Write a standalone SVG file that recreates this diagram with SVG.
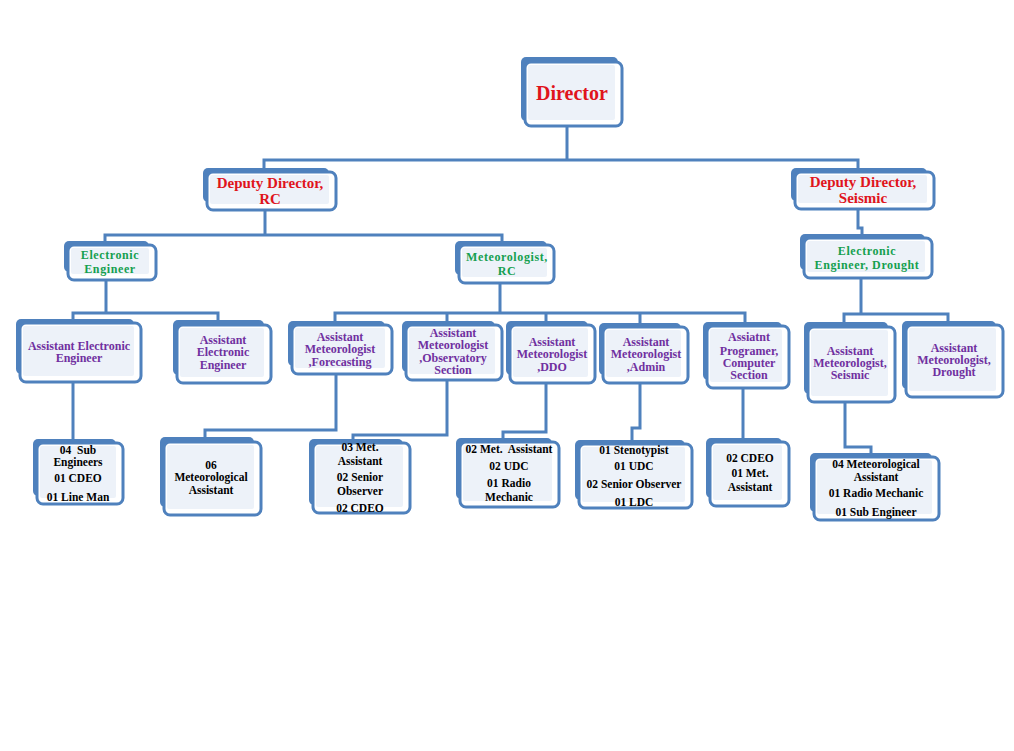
<svg xmlns="http://www.w3.org/2000/svg" width="1014" height="751" viewBox="0 0 1014 751">
<style>
.bk{fill:#4f81bd}
.fr{fill:#ffffff;stroke:#4f81bd;stroke-width:3}
.in{fill:#edf2f9}
.c{fill:none;stroke:#4f81bd;stroke-width:3}
text{font-family:"Liberation Serif","Times New Roman",serif;font-weight:bold;text-anchor:middle}
.red{fill:#e0141c;font-size:15px}
.big{font-size:20px}
.grn{fill:#15a04f;font-size:12px;letter-spacing:0.6px}
.pur{fill:#7030a0;font-size:12px}
.blk{fill:#000000;font-size:11.5px}
</style>
<rect width="1014" height="751" fill="#ffffff"/>
<g id="connectors">
<path class="c" d="M567,126 V160 M264,172 V160 H858 V172"/>
<path class="c" d="M265,210 V235 M105,245 V235 H502 V245"/>
<path class="c" d="M106,280 V313 M73,320 V313 H218 V322"/>
<path class="c" d="M500,283 V313 M335,322 V313 H745 V323 M447,313 V322 M546,313 V322 M640,313 V324"/>
<path class="c" d="M858,209 V228 H862 V235"/>
<path class="c" d="M861,278 V314 M844,324 V314 H948 V322"/>
<path class="c" d="M73,382 V440"/>
<path class="c" d="M336,374 V430 H205 V438"/>
<path class="c" d="M447,380 V435 H353 V440"/>
<path class="c" d="M546,383 V432 H503 V438"/>
<path class="c" d="M640,383 V428 H632 V441"/>
<path class="c" d="M743,388 V438"/>
<path class="c" d="M845,402 V447 H871 V454"/>
</g>
<g id="director">
<rect class="bk" x="521" y="57" width="97" height="64" rx="5"/>
<rect class="fr" x="525" y="62" width="97" height="64" rx="6"/>
<rect class="in" x="528" y="65" width="87" height="55" rx="2"/>
<text class="red big" x="572" y="100">Director</text>
</g>
<g id="dd-rc">
<rect class="bk" x="203" y="168" width="126" height="34" rx="5"/>
<rect class="fr" x="207" y="172" width="129" height="38" rx="6"/>
<rect class="in" x="210" y="175" width="119" height="29" rx="2"/>
<text class="red" x="270" y="188">Deputy Director,</text>
<text class="red" x="270" y="204">RC</text>
</g>
<g id="dd-seismic">
<rect class="bk" x="791" y="168" width="136" height="33" rx="5"/>
<rect class="fr" x="795" y="172" width="139" height="37" rx="6"/>
<rect class="in" x="798" y="175" width="129" height="28" rx="2"/>
<text class="red" x="863" y="187">Deputy Director,</text>
<text class="red" x="863" y="203">Seismic</text>
</g>
<g id="ee">
<rect class="bk" x="64" y="241" width="85" height="31" rx="5"/>
<rect class="fr" x="68" y="245" width="88" height="35" rx="6"/>
<rect class="in" x="71" y="248" width="78" height="26" rx="2"/>
<text class="grn" x="110" y="259">Electronic</text>
<text class="grn" x="110" y="273">Engineer</text>
</g>
<g id="met-rc">
<rect class="bk" x="455" y="241" width="92" height="34" rx="5"/>
<rect class="fr" x="459" y="245" width="95" height="38" rx="6"/>
<rect class="in" x="462" y="248" width="85" height="29" rx="2"/>
<text class="grn" x="507" y="261">Meteorologist,</text>
<text class="grn" x="507" y="275">RC</text>
</g>
<g id="ee-drought">
<rect class="bk" x="800" y="234" width="125" height="36" rx="5"/>
<rect class="fr" x="804" y="238" width="128" height="40" rx="6"/>
<rect class="in" x="807" y="241" width="118" height="31" rx="2"/>
<text class="grn" x="867" y="255">Electronic</text>
<text class="grn" x="867" y="269">Engineer, Drought</text>
</g>
<g id="aee1">
<rect class="bk" x="16" y="319" width="118" height="55" rx="5"/>
<rect class="fr" x="20" y="323" width="121" height="59" rx="6"/>
<rect class="in" x="23" y="326" width="111" height="50" rx="2"/>
<text class="pur" x="79" y="350">Assistant Electronic</text>
<text class="pur" x="79" y="362">Engineer</text>
</g>
<g id="aee2">
<rect class="bk" x="173" y="320" width="91" height="55" rx="5"/>
<rect class="fr" x="177" y="325" width="94" height="58" rx="6"/>
<rect class="in" x="180" y="328" width="84" height="49" rx="2"/>
<text class="pur" x="223" y="344">Assistant</text>
<text class="pur" x="223" y="356">Electronic</text>
<text class="pur" x="223" y="369">Engineer</text>
</g>
<g id="am-forecasting">
<rect class="bk" x="288" y="321" width="97" height="45" rx="5"/>
<rect class="fr" x="292" y="325" width="100" height="49" rx="6"/>
<rect class="in" x="295" y="328" width="90" height="40" rx="2"/>
<text class="pur" x="340" y="341">Assistant</text>
<text class="pur" x="340" y="353">Meteorologist</text>
<text class="pur" x="340" y="366">,Forecasting</text>
</g>
<g id="am-observatory">
<rect class="bk" x="402" y="321" width="93" height="51" rx="5"/>
<rect class="fr" x="406" y="325" width="96" height="55" rx="6"/>
<rect class="in" x="409" y="328" width="86" height="46" rx="2"/>
<text class="pur" x="453" y="337">Assistant</text>
<text class="pur" x="453" y="349">Meteorologist</text>
<text class="pur" x="453" y="362">,Observatory</text>
<text class="pur" x="453" y="374">Section</text>
</g>
<g id="am-ddo">
<rect class="bk" x="506" y="321" width="82" height="54" rx="5"/>
<rect class="fr" x="510" y="325" width="85" height="58" rx="6"/>
<rect class="in" x="513" y="328" width="75" height="49" rx="2"/>
<text class="pur" x="552" y="346">Assistant</text>
<text class="pur" x="552" y="358">Meteorologist</text>
<text class="pur" x="552" y="371">,DDO</text>
</g>
<g id="am-admin">
<rect class="bk" x="599" y="323" width="82" height="52" rx="5"/>
<rect class="fr" x="603" y="327" width="85" height="56" rx="6"/>
<rect class="in" x="606" y="330" width="75" height="47" rx="2"/>
<text class="pur" x="646" y="346">Assistant</text>
<text class="pur" x="646" y="358">Meteorologist</text>
<text class="pur" x="646" y="371">,Admin</text>
</g>
<g id="ap-computer">
<rect class="bk" x="703" y="322" width="79" height="58" rx="5"/>
<rect class="fr" x="707" y="326" width="82" height="62" rx="6"/>
<rect class="in" x="710" y="329" width="72" height="53" rx="2"/>
<text class="pur" x="749" y="341">Assiatnt</text>
<text class="pur" x="749" y="355">Programer,</text>
<text class="pur" x="749" y="367">Computer</text>
<text class="pur" x="749" y="379">Section</text>
</g>
<g id="am-seismic">
<rect class="bk" x="804" y="322" width="84" height="72" rx="5"/>
<rect class="fr" x="808" y="327" width="87" height="75" rx="6"/>
<rect class="in" x="811" y="330" width="77" height="66" rx="2"/>
<text class="pur" x="850" y="355">Assistant</text>
<text class="pur" x="850" y="367">Meteorologist,</text>
<text class="pur" x="850" y="379">Seismic</text>
</g>
<g id="am-drought">
<rect class="bk" x="902" y="321" width="94" height="68" rx="5"/>
<rect class="fr" x="906" y="325" width="97" height="72" rx="6"/>
<rect class="in" x="909" y="328" width="87" height="63" rx="2"/>
<text class="pur" x="954" y="352">Assistant</text>
<text class="pur" x="954" y="364">Meteorologist,</text>
<text class="pur" x="954" y="376">Drought</text>
</g>
<g id="staff-ee">
<rect class="bk" x="33" y="439" width="83" height="57" rx="5"/>
<rect class="fr" x="37" y="443" width="86" height="61" rx="6"/>
<rect class="in" x="40" y="446" width="76" height="52" rx="2"/>
<text class="blk" x="78" y="454">04&#160; Sub</text>
<text class="blk" x="78" y="466">Engineers</text>
<text class="blk" x="78" y="482">01 CDEO</text>
<text class="blk" x="78" y="501">01 Line Man</text>
</g>
<g id="staff-forecasting">
<rect class="bk" x="160" y="437" width="94" height="70" rx="5"/>
<rect class="fr" x="164" y="442" width="97" height="73" rx="6"/>
<rect class="in" x="167" y="445" width="87" height="64" rx="2"/>
<text class="blk" x="211" y="469">06</text>
<text class="blk" x="211" y="481">Meteorological</text>
<text class="blk" x="211" y="494">Assistant</text>
</g>
<g id="staff-observatory">
<rect class="bk" x="309" y="439" width="94" height="66" rx="5"/>
<rect class="fr" x="313" y="443" width="97" height="70" rx="6"/>
<rect class="in" x="316" y="446" width="87" height="61" rx="2"/>
<text class="blk" x="360" y="451">03 Met.</text>
<text class="blk" x="360" y="465">Assistant</text>
<text class="blk" x="360" y="481">02 Senior</text>
<text class="blk" x="360" y="495">Observer</text>
<text class="blk" x="360" y="512">02 CDEO</text>
</g>
<g id="staff-ddo">
<rect class="bk" x="456" y="438" width="96" height="61" rx="5"/>
<rect class="fr" x="460" y="442" width="99" height="65" rx="6"/>
<rect class="in" x="463" y="445" width="89" height="56" rx="2"/>
<text class="blk" x="509" y="453">02 Met.&#160; Assistant</text>
<text class="blk" x="509" y="470">02 UDC</text>
<text class="blk" x="509" y="487">01 Radio</text>
<text class="blk" x="509" y="501">Mechanic</text>
</g>
<g id="staff-admin">
<rect class="bk" x="575" y="440" width="110" height="60" rx="5"/>
<rect class="fr" x="579" y="444" width="113" height="64" rx="6"/>
<rect class="in" x="582" y="447" width="103" height="55" rx="2"/>
<text class="blk" x="634" y="454">01 Stenotypist</text>
<text class="blk" x="634" y="470">01 UDC</text>
<text class="blk" x="634" y="488">02 Senior Observer</text>
<text class="blk" x="634" y="506">01 LDC</text>
</g>
<g id="staff-computer">
<rect class="bk" x="706" y="438" width="76" height="60" rx="5"/>
<rect class="fr" x="710" y="442" width="79" height="64" rx="6"/>
<rect class="in" x="713" y="445" width="69" height="55" rx="2"/>
<text class="blk" x="750" y="462">02 CDEO</text>
<text class="blk" x="750" y="477">01 Met.</text>
<text class="blk" x="750" y="491">Assistant</text>
</g>
<g id="staff-seismic">
<rect class="bk" x="810" y="453" width="122" height="59" rx="5"/>
<rect class="fr" x="814" y="457" width="125" height="63" rx="6"/>
<rect class="in" x="817" y="460" width="115" height="54" rx="2"/>
<text class="blk" x="876" y="468">04 Meteorological</text>
<text class="blk" x="876" y="481">Assistant</text>
<text class="blk" x="876" y="497">01 Radio Mechanic</text>
<text class="blk" x="876" y="516">01 Sub Engineer</text>
</g>
</svg>
